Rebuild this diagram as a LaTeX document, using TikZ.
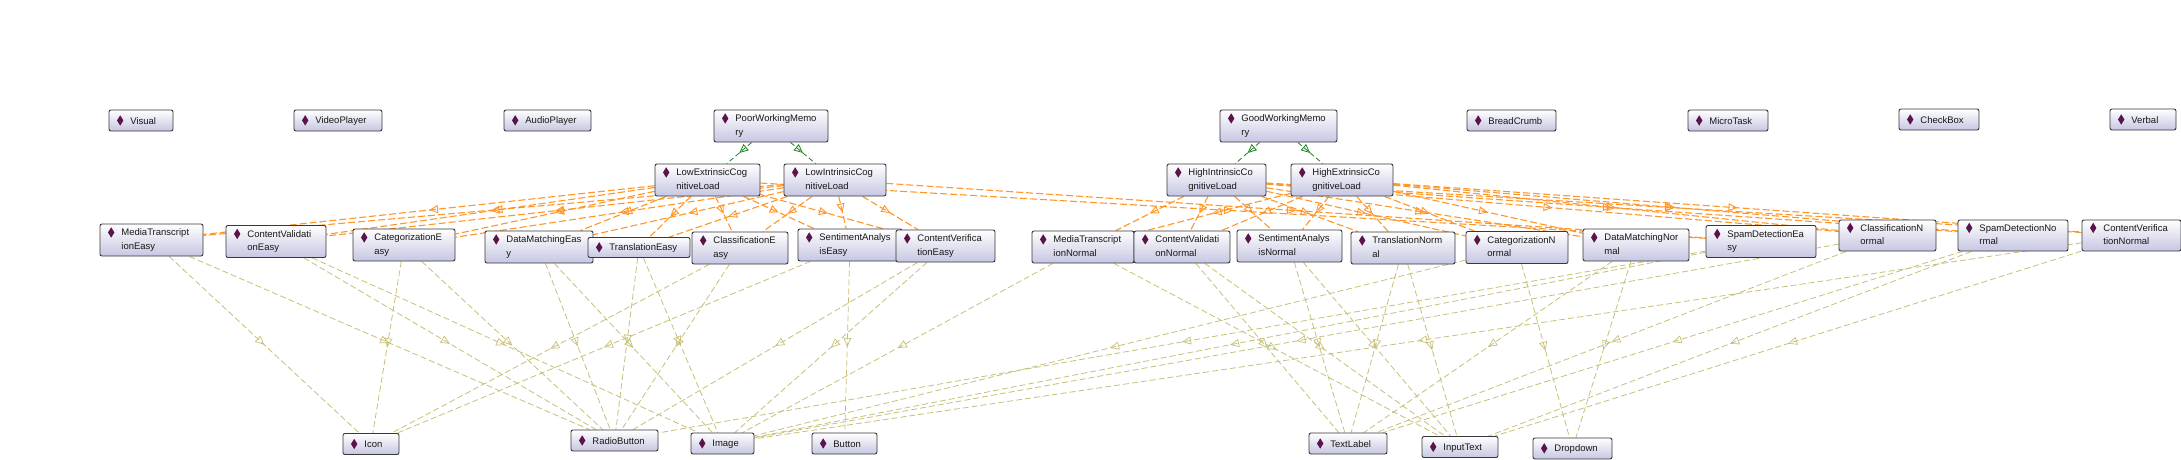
\documentclass[tikz,border=0pt]{standalone}
\usepackage{fontspec}
\setmainfont{Liberation Sans}
\usepackage{tikz}
\usetikzlibrary{arrows.meta,decorations.markings}
\usepackage{xcolor}
\definecolor{boxline}{RGB}{55,55,60}
\definecolor{boxfill}{RGB}{198,198,226}
\definecolor{dmdpurple}{RGB}{90,20,75}
\definecolor{loadorange}{RGB}{255,150,40}
\definecolor{usesolive}{RGB}{200,192,120}
\definecolor{isagreen}{RGB}{30,130,30}
\pgfdeclarelayer{background}
\pgfsetlayers{background,main}
\newcommand{\dmd}{\tikz[baseline=-3.5pt]\fill[dmdpurple,sharp corners] (0pt,0pt)--(3.2pt,5.2pt)--(6.4pt,0pt)--(3.2pt,-5.2pt)--cycle;\hspace{7pt}}
\newcommand{\two}[2]{\begin{tabular}[t]{@{}l@{}}#1\\#2\end{tabular}}

\begin{document}
\begin{tikzpicture}[x=1pt,y=-1pt,
 cls/.style={rectangle,draw=boxline,line width=0.9pt,rounded corners=2pt,top color=white,
   bottom color=boxfill,inner xsep=8pt,inner ysep=2pt,align=left,text=black!90,
   font=\fontsize{9.5}{13.5}\selectfont,minimum height=32},
 one/.style={cls,minimum height=21},
 isa/.style={isagreen,line width=0.8pt,dash pattern=on 5pt off 3pt,postaction={decorate},
   decoration={markings,mark=at position 0.5 with {\arrow{Triangle[open,length=9pt,width=8pt,line width=0.8pt]}}}},
 load/.style={loadorange,line width=1.1pt,dash pattern=on 7pt off 3pt,postaction={decorate},
   decoration={markings,mark=at position 0.5 with {\arrow{Triangle[open,length=9pt,width=8pt,line width=0.9pt]}}}},
 uses/.style={usesolive,line width=0.8pt,dash pattern=on 6pt off 3pt,postaction={decorate},
   decoration={markings,mark=at position 0.5 with {\arrow{Triangle[open,length=9pt,width=8pt,line width=0.7pt]}}}}]
\useasboundingbox (0,0) rectangle (2181,460);
% top row
\node[one,text width=48] (visual) at (141,120.5) {\dmd Visual};
\node[one,text width=72] (videoplayer) at (338,120.5) {\dmd VideoPlayer};
\node[one,text width=71] (audioplayer) at (547.5,120.5) {\dmd AudioPlayer};
\node[cls,text width=98] (pwm) at (771,126) {\dmd\two{PoorWorkingMemo}{ry}};
\node[cls,text width=101] (gwm) at (1278.5,126) {\dmd\two{GoodWorkingMemo}{ry}};
\node[one,text width=73] (breadcrumb) at (1511.5,120.5) {\dmd BreadCrumb};
\node[one,text width=64] (microtask) at (1728,120.5) {\dmd MicroTask};
\node[one,text width=64] (checkbox) at (1939,119.5) {\dmd CheckBox};
\node[one,text width=50] (verbal) at (2143,119.5) {\dmd Verbal};
% cognitive load
\node[cls,text width=89] (lowext) at (707.5,180) {\dmd\two{LowExtrinsicCog}{nitiveLoad}};
\node[cls,text width=86] (lowint) at (835,180) {\dmd\two{LowIntrinsicCog}{nitiveLoad}};
\node[cls,text width=83] (highint) at (1216.5,180) {\dmd\two{HighIntrinsicCo}{gnitiveLoad}};
\node[cls,text width=86] (highext) at (1342,180) {\dmd\two{HighExtrinsicCo}{gnitiveLoad}};
% tasks
\node[cls,text width=87] (mte) at (151.5,240) {\dmd\two{MediaTranscript}{ionEasy}};
\node[cls,text width=84] (cvae) at (276,241.5) {\dmd\two{ContentValidati}{onEasy}};
\node[cls,text width=86] (cate) at (404,245) {\dmd\two{CategorizationE}{asy}};
\node[cls,text width=92] (dme) at (539,247) {\dmd\two{DataMatchingEas}{y}};
\node[one,text width=86,minimum height=20] (tre) at (639,247.5) {\dmd TranslationEasy};
\node[cls,text width=80] (cle) at (740,248) {\dmd\two{ClassificationE}{asy}};
\node[cls,text width=88] (sae) at (850,245) {\dmd\two{SentimentAnalys}{isEasy}};
\node[cls,text width=83] (cvee) at (945.5,246) {\dmd\two{ContentVerifica}{tionEasy}};
\node[cls,text width=86] (mtn) at (1083,247) {\dmd\two{MediaTranscript}{ionNormal}};
\node[cls,text width=80] (cvan) at (1182,247) {\dmd\two{ContentValidati}{onNormal}};
\node[cls,text width=89] (san) at (1289.5,246) {\dmd\two{SentimentAnalys}{isNormal}};
\node[cls,text width=88] (trn) at (1403,248) {\dmd\two{TranslationNorm}{al}};
\node[cls,text width=86] (catn) at (1517,247.5) {\dmd\two{CategorizationN}{ormal}};
\node[cls,text width=90] (dmn) at (1636,245) {\dmd\two{DataMatchingNor}{mal}};
\node[cls,text width=94] (sde) at (1761,241.5) {\dmd\two{SpamDetectionEa}{sy}};
\node[cls,text width=81,minimum height=30] (cln) at (1887.5,235.5) {\dmd\two{ClassificationN}{ormal}};
\node[cls,text width=94,minimum height=30] (sdn) at (2013,235.5) {\dmd\two{SpamDetectionNo}{rmal}};
\node[cls,text width=83,minimum height=30] (cven) at (2131.5,235.5) {\dmd\two{ContentVerifica}{tionNormal}};
% widgets
\node[one,text width=40] (icon) at (371,444) {\dmd Icon};
\node[one,text width=71] (radio) at (614.5,440.5) {\dmd RadioButton};
\node[one,text width=47] (image) at (722.5,443.5) {\dmd Image};
\node[one,text width=49] (button) at (844.5,443.5) {\dmd Button};
\node[one,text width=62] (textlabel) at (1348,443.5) {\dmd TextLabel};
\node[one,text width=60] (inputtext) at (1460,447) {\dmd InputText};
\node[one,text width=63] (dropdown) at (1572.5,448.5) {\dmd Dropdown};
\begin{pgfonlayer}{background}
\fill[white] (0,0) rectangle (2181,460);
\foreach \t/\w in {mte/icon,mte/radio,cvae/radio,cvae/image,cate/icon,cate/radio,
  dme/radio,dme/image,tre/radio,tre/image,cle/icon,cle/radio,sae/icon,sae/button,
  cvee/image,cvee/radio,sde/radio,sde/image,mtn/image,mtn/inputtext,
  cvan/textlabel,cvan/inputtext,san/textlabel,san/inputtext,trn/textlabel,trn/inputtext,
  catn/dropdown,catn/image,dmn/textlabel,dmn/dropdown,cln/textlabel,cln/image,
  sdn/inputtext,sdn/textlabel,cven/image,cven/inputtext}
  \draw[uses] (\t) -- (\w);
\foreach \t in {mte,cvae,cate,dme,tre,cle,sae,cvee,sde}{
  \draw[load] (lowext) -- (\t);
  \draw[load] (lowint) -- (\t);}
\foreach \t in {mtn,cvan,san,trn,catn,dmn,cln,sdn,cven}{
  \draw[load] (highint) -- (\t);
  \draw[load] (highext) -- (\t);}
\draw[isa] (pwm) -- (lowext);
\draw[isa] (pwm) -- (lowint);
\draw[isa] (gwm) -- (highint);
\draw[isa] (gwm) -- (highext);
\end{pgfonlayer}
\end{tikzpicture}
\end{document}
